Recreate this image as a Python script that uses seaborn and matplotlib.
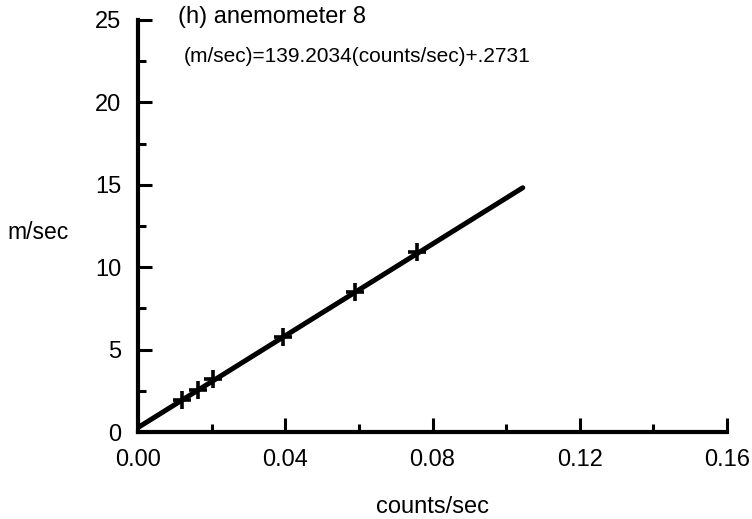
import numpy as np
import pandas as pd
import matplotlib
matplotlib.use('Agg')
import matplotlib.pyplot as plt
import seaborn as sns
from matplotlib.ticker import MultipleLocator

# calibration points
counts = [0.0119, 0.0162, 0.0205, 0.0394, 0.0590, 0.0758]
speed = [1.94, 2.55, 3.20, 5.76, 8.51, 10.95]
# fitted line, ends
fit_x = [0.0, 0.1045]
fit_y = [0.27, 14.82]

title = '(h) anemometer 8'
equation = '(m/sec)=139.2034(counts/sec)+.2731'

sns.set_style('ticks')
plt.rcParams['font.family'] = ['Liberation Sans', 'DejaVu Sans']
for k in ['text.color', 'axes.labelcolor', 'xtick.color', 'ytick.color', 'axes.edgecolor']:
    plt.rcParams[k] = 'black'

pts = pd.DataFrame({'counts': counts, 'speed': speed})
line = pd.DataFrame({'counts': fit_x, 'speed': fit_y})

fig = plt.figure(figsize=(7.52, 5.19), dpi=100)
ax = fig.add_axes([0.1835, 0.1676, 0.7833, 0.7939])

sns.lineplot(data=line, x='counts', y='speed', ax=ax, color='black', lw=3.6,
             solid_capstyle='round')
sns.scatterplot(data=pts, x='counts', y='speed', ax=ax, marker='+', s=150,
                color='black', linewidth=2.6, zorder=3)

ax.set_xlim(0, 0.16)
ax.set_ylim(0, 25)
ax.xaxis.set_major_locator(MultipleLocator(0.04))
ax.xaxis.set_minor_locator(MultipleLocator(0.02))
ax.yaxis.set_major_locator(MultipleLocator(5))
ax.yaxis.set_minor_locator(MultipleLocator(2.5))
ax.set_xticklabels(['%.2f' % v for v in ax.get_xticks()])
ax.tick_params(which='major', direction='in', length=10, width=2.2,
               labelsize=17, pad=12)
ax.tick_params(which='minor', direction='in', length=6, width=2.2)

for s in ['top', 'right']:
    ax.spines[s].set_visible(False)
for s in ['left', 'bottom']:
    ax.spines[s].set_linewidth(3)
ax.spines['left'].set_capstyle('projecting')

ax.set_xlabel('counts/sec', fontsize=17, labelpad=18)
ax.set_ylabel('m/sec', fontsize=16.5, rotation=0, ha='center', va='center')
ax.yaxis.set_label_coords(-0.17, 0.485)

fig.text(178 / 752, 1 - 17 / 519, title, fontsize=17, va='center', ha='left')
fig.text(184 / 752, 1 - 57 / 519, equation, fontsize=15, va='center', ha='left')

fig.savefig('out.png', dpi=100)
